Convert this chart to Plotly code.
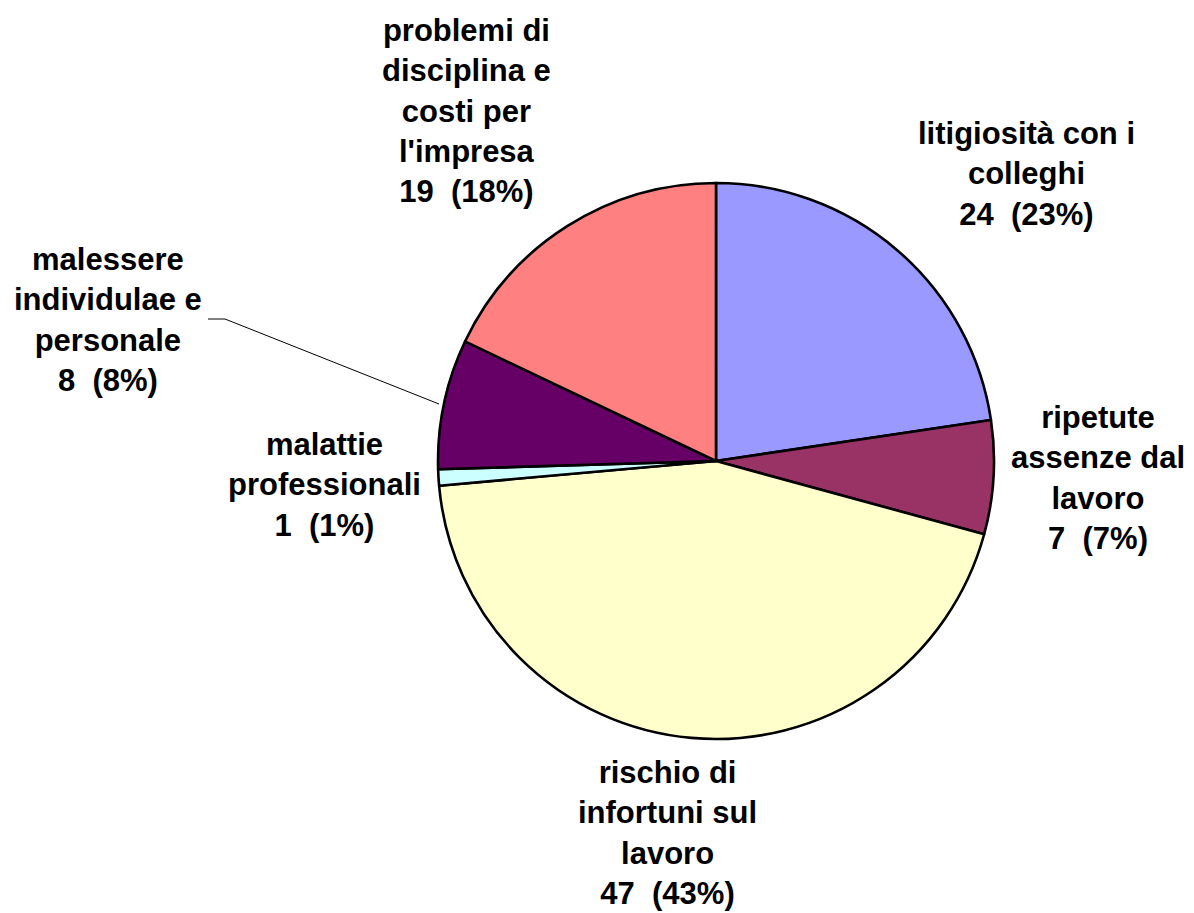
import plotly.graph_objects as go

categories = [
    "litigiosità con i<br>colleghi",
    "ripetute<br>assenze dal<br>lavoro",
    "rischio di<br>infortuni sul<br>lavoro",
    "malattie<br>professionali",
    "malessere<br>individulae e<br>personale",
    "problemi di<br>disciplina e<br>costi per<br>l'impresa",
]
values = [24, 7, 47, 1, 8, 19]
percent_labels = ["23%", "7%", "43%", "1%", "8%", "18%"]
colors = ["#9999FF", "#993366", "#FFFFCC", "#CCFFFF", "#660066", "#FF8080"]

W, H = 1194, 913
OFF = 7  # page body margin compensation
# label centers in pixels (as seen in page)
label_pos = [(1025, 173), (1097, 477), (667, 832), (323, 484), (107, 319), (465, 110)]

fig = go.Figure(go.Pie(
    labels=[c.replace("<br>", " ") for c in categories],
    values=values,
    sort=False,
    direction="clockwise",
    rotation=0,
    marker=dict(colors=colors, line=dict(color="black", width=2.6)),
    textinfo="none",
    hoverinfo="label+value",
    domain=dict(x=[430 / W, 986 / W], y=[1 - 731 / H, 1 - 175 / H]),
    showlegend=False,
))

for cat, v, p, (px, py) in zip(categories, values, percent_labels, label_pos):
    fig.add_annotation(
        x=(px - OFF) / W, y=1 - (py - OFF) / H, xref="paper", yref="paper",
        text=f"{cat}<br>{v}  ({p})", showarrow=False,
        xanchor="center", yanchor="middle", align="center",
        font=dict(family="Liberation Sans, Arial, sans-serif", size=31, color="black", weight="bold"),
    )

# leader line for "malessere"
pts = [(207, 318), (224, 318), (438, 403)]
fig.add_shape(type="path", xref="paper", yref="paper",
              path="M " + " L ".join(f"{(x - OFF) / W},{1 - (y - OFF) / H}" for x, y in pts),
              line=dict(color="black", width=1))

fig.update_layout(
    width=W, height=H,
    margin=dict(l=0, r=0, t=0, b=0),
    paper_bgcolor="white", plot_bgcolor="white",
)
fig.write_html("out.html")
